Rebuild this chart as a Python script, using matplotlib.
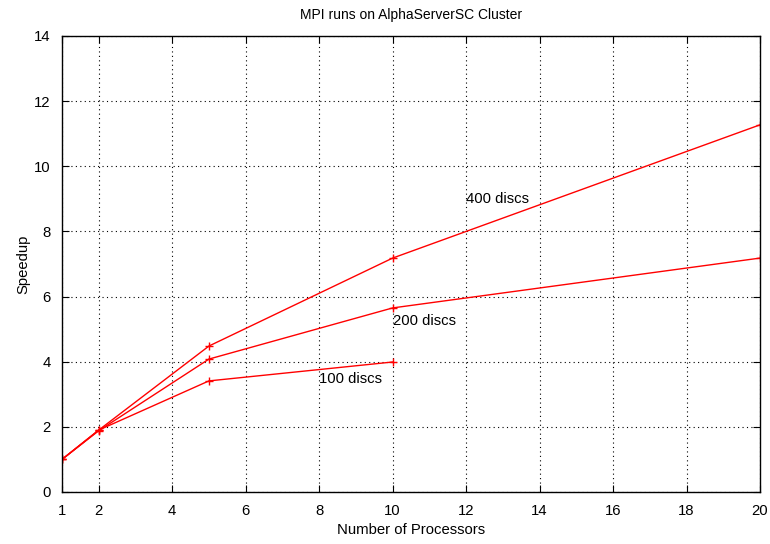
import numpy as np
import matplotlib.pyplot as plt

plt.rcParams['font.family'] = ['Liberation Sans', 'DejaVu Sans']

procs_400 = [1, 2, 5, 10, 20]
speedup_400 = [1.0, 1.9, 4.48, 7.18, 11.27]
procs_200 = [1, 2, 5, 10, 20]
speedup_200 = [1.0, 1.88, 4.08, 5.65, 7.18]
procs_100 = [1, 2, 5, 10]
speedup_100 = [1.0, 1.9, 3.41, 3.99]

labels = [("400 discs", 12, 9.0), ("200 discs", 10, 5.25), ("100 discs", 8, 3.47)]

fig = plt.figure(figsize=(7.7, 5.44), dpi=100)
ax = fig.add_axes([0.0805, 0.0956, 0.9065, 0.8384])

for x, y in [(procs_400, speedup_400), (procs_200, speedup_200), (procs_100, speedup_100)]:
    ax.plot(x, y, color='red', linewidth=1.0, marker='+', markersize=6, markeredgewidth=1.0)

for text, x, y in labels:
    ax.text(x, y, text, fontsize=10.7, ha='left', va='center')

ax.set_xlim(1, 20)
ax.set_ylim(0, 14)
ax.set_xticks([1, 2, 4, 6, 8, 10, 12, 14, 16, 18, 20])
ax.set_yticks(np.arange(0, 15, 2))
ax.tick_params(direction='in', top=True, right=True, length=5, labelsize=10.7)
ax.tick_params(axis='x', pad=9)
ax.tick_params(axis='y', pad=8)
ax.grid(True, linestyle=(0, (1, 3)), color='black', linewidth=0.8)
for s in ax.spines.values():
    s.set_linewidth(1.0)

ax.set_title('MPI runs on AlphaServerSC Cluster', fontsize=10, pad=12)
ax.set_xlabel('Number of Processors', fontsize=10.7, labelpad=3)
ax.set_ylabel('Speedup', fontsize=10.7, labelpad=3)

fig.savefig('out.png', dpi=100)
